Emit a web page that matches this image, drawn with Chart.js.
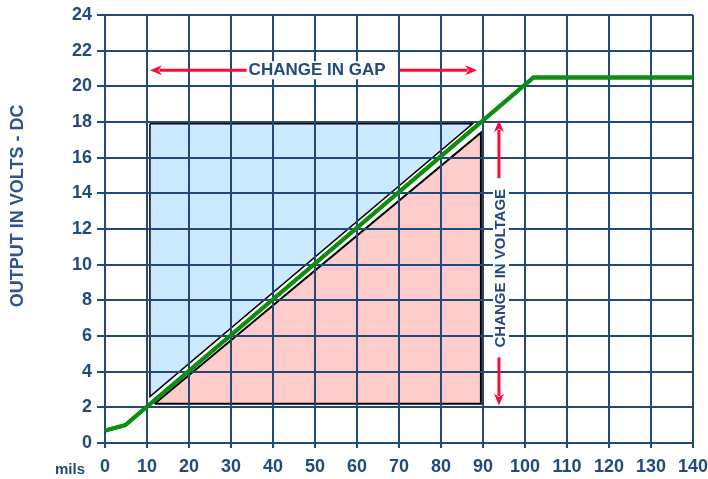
<!DOCTYPE html>
<html>
<head>
<meta charset="utf-8">
<script src="https://cdn.jsdelivr.net/npm/chart.js@4"></script>
<style>
  html, body { margin: 0; padding: 0; background: #fff; }
  #wrap { width: 708px; height: 479px; position: relative; }
</style>
</head>
<body>
<div id="wrap"><canvas id="chart"></canvas></div>
<script>
// gap in mils vs output volts
const outputCurve = [
  { x: 0, y: 0.7 },
  { x: 4.8, y: 1.0 },
  { x: 102, y: 20.5 },
  { x: 140, y: 20.5 }
];
// shaded areas, corners
const gapArea = [
  { x: 10.7, y: 17.9 },
  { x: 87.5, y: 17.9 },
  { x: 10.7, y: 2.6 },
  { x: 10.7, y: 17.9 }
];
const voltageArea = [
  { x: 11.8, y: 2.2 },
  { x: 89.5, y: 2.2 },
  { x: 89.5, y: 17.4 },
  { x: 11.8, y: 2.2 }
];
const xTicks = [0, 10, 20, 30, 40, 50, 60, 70, 80, 90, 100, 110, 120, 130, 140];
const yTicks = [0, 2, 4, 6, 8, 10, 12, 14, 16, 18, 20, 22, 24];

// arrow annotations in data units
const gapArrowY = 20.9;
const gapArrowLeft = [34.5, 10.7];
const gapArrowRight = [70.2, 88.6];
const gapLabelX = 50.5;
const voltArrowX = 93.8;
const voltArrowUp = [14.85, 18.1];
const voltArrowDown = [4.8, 2.1];
const voltLabelY = 9.8;

const NAVY = '#23487a';
const TEXT = '#234a7c';
const RED = '#ff0838';
const FONT = '"Liberation Sans", Arial, sans-serif';

function arrow(ctx, x1, y1, x2, y2) {
  const a = Math.atan2(y2 - y1, x2 - x1);
  const head = 12, half = 5;
  ctx.beginPath();
  ctx.moveTo(x1, y1);
  ctx.lineTo(x2 - Math.cos(a) * head * 0.8, y2 - Math.sin(a) * head * 0.8);
  ctx.stroke();
  ctx.beginPath();
  ctx.moveTo(x2, y2);
  ctx.lineTo(x2 - Math.cos(a) * head - Math.sin(a) * half, y2 - Math.sin(a) * head + Math.cos(a) * half);
  ctx.lineTo(x2 - Math.cos(a) * head * 0.7, y2 - Math.sin(a) * head * 0.7);
  ctx.lineTo(x2 - Math.cos(a) * head + Math.sin(a) * half, y2 - Math.sin(a) * head - Math.cos(a) * half);
  ctx.closePath();
  ctx.fill();
}

const notes = {
  id: 'notes',
  afterDraw(chart) {
    const { ctx, chartArea } = chart;
    const xs = chart.scales.x, ys = chart.scales.y;
    // grid sits over the shaded areas, output curve goes back on top of the grid
    const curve = chart.getDatasetMeta(0).dataset;
    if (curve) curve.draw(ctx, chartArea);

    ctx.save();
    ctx.strokeStyle = RED;
    ctx.fillStyle = RED;
    ctx.lineWidth = 3;
    const gy = ys.getPixelForValue(gapArrowY);
    arrow(ctx, xs.getPixelForValue(gapArrowLeft[0]), gy, xs.getPixelForValue(gapArrowLeft[1]), gy);
    arrow(ctx, xs.getPixelForValue(gapArrowRight[0]), gy, xs.getPixelForValue(gapArrowRight[1]), gy);
    const vx = xs.getPixelForValue(voltArrowX);
    arrow(ctx, vx, ys.getPixelForValue(voltArrowUp[0]), vx, ys.getPixelForValue(voltArrowUp[1]));
    arrow(ctx, vx, ys.getPixelForValue(voltArrowDown[0]), vx, ys.getPixelForValue(voltArrowDown[1]));

    ctx.textAlign = 'center';
    ctx.textBaseline = 'middle';
    ctx.font = 'bold 17px ' + FONT;
    const gapText = 'CHANGE IN GAP';
    const gw = ctx.measureText(gapText).width;
    ctx.fillStyle = '#fff';
    ctx.fillRect(xs.getPixelForValue(gapLabelX) - gw / 2 - 2, gy - 9, gw + 4, 18);
    ctx.fillStyle = TEXT;
    ctx.fillText(gapText, xs.getPixelForValue(gapLabelX), gy);

    ctx.save();
    ctx.translate(vx + 2, ys.getPixelForValue(voltLabelY));
    ctx.rotate(-Math.PI / 2);
    ctx.font = 'bold 15px ' + FONT;
    const vText = 'CHANGE IN VOLTAGE';
    const vw = ctx.measureText(vText).width;
    ctx.fillStyle = '#fff';
    ctx.fillRect(-vw / 2 - 2, -8, vw + 4, 16);
    ctx.fillStyle = TEXT;
    ctx.fillText(vText, 0, 0);
    ctx.restore();

    ctx.save();
    ctx.translate(chartArea.left - 87, ys.getPixelForValue(13.3));
    ctx.rotate(-Math.PI / 2);
    ctx.font = 'bold 18px ' + FONT;
    ctx.fillStyle = '#2a5590';
    ctx.fillText('OUTPUT IN VOLTS - DC', 0, 0);
    ctx.restore();

    ctx.fillStyle = TEXT;
    ctx.font = 'bold 15px ' + FONT;
    ctx.fillText('mils', chartArea.left - 35, chartArea.bottom + 27);
    ctx.restore();
  }
};

const ctx = document.getElementById('chart').getContext('2d');
new Chart(ctx, {
  type: 'scatter',
  data: {
    datasets: [
      {
        label: 'Output',
        data: outputCurve,
        showLine: true,
        borderColor: '#0d8f0d',
        borderWidth: 4,
        pointRadius: 0,
        fill: false,
        tension: 0,
        order: 0
      },
      {
        label: 'Change in gap',
        data: gapArea,
        showLine: true,
        borderColor: '#000',
        borderWidth: 1.5,
        backgroundColor: '#cceaff',
        pointRadius: 0,
        fill: 'shape',
        tension: 0,
        order: 1
      },
      {
        label: 'Change in voltage',
        data: voltageArea,
        showLine: true,
        borderColor: '#000',
        borderWidth: 2,
        backgroundColor: '#ffcccc',
        pointRadius: 0,
        fill: 'shape',
        tension: 0,
        order: 2
      }
    ]
  },
  options: {
    responsive: true,
    maintainAspectRatio: false,
    animation: false,
    layout: { padding: { top: 15, right: 0, left: 0, bottom: 0 } },
    plugins: {
      legend: { display: false },
      tooltip: { enabled: false }
    },
    scales: {
      x: {
        type: 'linear',
        min: 0,
        max: 140,
        afterBuildTicks: s => { s.ticks = xTicks.map(v => ({ value: v })); },
        afterFit: s => { s.height = 36; s.paddingLeft = 0; s.paddingRight = 15; },
        grid: { color: NAVY, lineWidth: 2, tickLength: 5, tickColor: NAVY, z: 1 },
        border: { display: false },
        ticks: {
          color: TEXT,
          padding: 8,
          maxRotation: 0,
          font: { family: FONT, size: 18, weight: 'bold' }
        }
      },
      y: {
        type: 'linear',
        min: 0,
        max: 24,
        afterBuildTicks: s => { s.ticks = yTicks.map(v => ({ value: v })); },
        afterFit: s => { s.width = 105; s.paddingTop = 15; s.paddingBottom = 0; },
        grid: { color: NAVY, lineWidth: 2, tickLength: 8, tickColor: NAVY, z: 1 },
        border: { display: false },
        ticks: {
          color: TEXT,
          padding: 5,
          font: { family: FONT, size: 18, weight: 'bold' }
        }
      }
    }
  },
  plugins: [notes]
});
</script>
</body>
</html>
